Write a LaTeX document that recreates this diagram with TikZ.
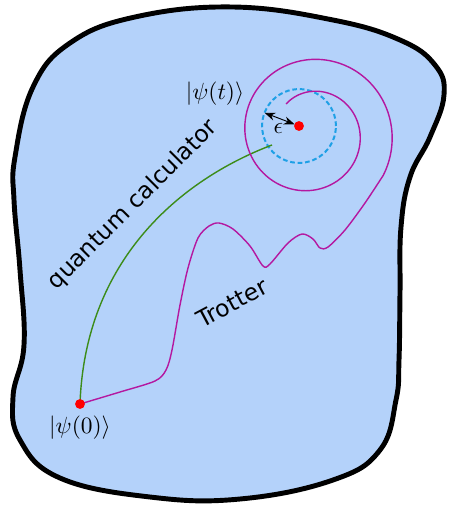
\documentclass[tikz,border=0pt]{standalone}
\usepackage{amsmath}
\usepackage{xcolor}
\usepackage{fontspec}
\usepackage{tikz}
\usetikzlibrary{positioning, arrows.meta}
\newfontfamily\lblfont{DejaVu Sans}
\definecolor{regionblue}{RGB}{180,210,250}
\definecolor{ringblue}{RGB}{30,160,230}
\definecolor{trotmag}{RGB}{180,24,160}
\definecolor{qcgreen}{RGB}{60,140,25}
\tikzset{
  region/.style={line width=2.1pt, fill=regionblue},
  trotpath/.style={trotmag, line width=0.6pt},
  qcpath/.style={qcgreen, line width=0.6pt},
  ring/.style={circle, draw=ringblue, line width=0.85pt, dash pattern=on 2pt off 1.2pt,
               minimum size=31.5pt, inner sep=0pt, outer sep=0pt},
  epsarrow/.style={{Stealth[length=1.6mm]}-{Stealth[length=1.6mm]}, line width=0.4pt},
  ket/.style={inner sep=2pt},
  wordlbl/.style={font=\lblfont, inner sep=0pt}
}

\begin{document}
\begin{tikzpicture}[x=0.015cm, y=-0.015cm]
  \useasboundingbox (0,0) rectangle (448,506);
  % state space
  \draw[region] plot[smooth cycle, tension=0.7] coordinates {
    (233,7) (333,20) (400,40) (435,65) (444,95) (430,137) (410,177) (401,227)
    (400,293) (399,360) (396,400) (380,450) (333,480) (240,499) (150,497)
    (60,478) (20,440) (13,397) (24,345) (20,270) (14,200) (15,157) (33,87)
    (70,43) (135,17)};

  \coordinate (psi0) at (80,404);
  \coordinate (psit) at (299,126);
  \coordinate (qcend) at (272,145);

  \node[ring] (ring) at (psit) {};

  % exact evolution
  \draw[qcpath] (psi0) .. controls (85,260) and (180,180) .. (qcend);

  % Trotter steps
  \draw[trotpath] plot[smooth, tension=0.5] coordinates {
    (psi0) (120,392) (155,381) (166,370) (172,350) (180,305) (188,268) (198,238)
    (209,226) (219,223) (233,229) (250,246) (263,266) (270,264) (288,243)
    (302,234) (313,239) (320,248) (328,247) (345,230) (365,203) (383.4,175.1)}
    -- plot[domain=-30:490, samples=140, smooth]
    ({310.5+(81.5-16*\x/180)*cos(\x)}, {133-(81.5-16*\x/180)*sin(\x)});

  \draw[epsarrow, shorten >=2pt] (ring.159) -- (psit)
    node[pos=0.4, below=0pt, inner sep=2pt] (eps) {$\epsilon$};

  \fill[red] (psi0) circle (2.1pt);
  \fill[red] (psit) circle (2.1pt);

  \node[ket, below=3pt of psi0] (ket0) {$|\psi(0)\rangle$};
  \node[ket] (kett) at (215,94) {$|\psi(t)\rangle$};

  \node[wordlbl, rotate=45] (qclbl) at (133,205) {quantum calculator};
  \node[wordlbl, rotate=28] (trotlbl) at (232,303) {Trotter};
\end{tikzpicture}
\end{document}
